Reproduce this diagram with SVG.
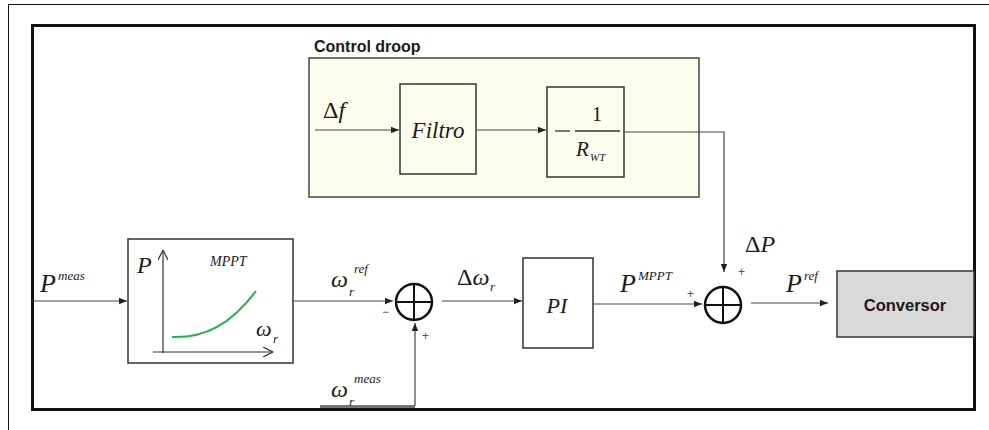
<svg xmlns="http://www.w3.org/2000/svg" width="989" height="430" viewBox="0 0 989 430">
<defs>
<marker id="ah" viewBox="0 0 10 10" refX="10" refY="5" markerWidth="8" markerHeight="8" markerUnits="userSpaceOnUse" orient="auto">
<path d="M0,1 L10,5 L0,9 z" fill="#222"/>
</marker>
<marker id="open" viewBox="0 0 10 10" refX="10" refY="5" markerWidth="10" markerHeight="10" markerUnits="userSpaceOnUse" orient="auto">
<path d="M0,0 L10,5 L0,10" fill="none" stroke="#333" stroke-width="1.2"/>
</marker>
</defs>
<style>
.m{font-family:"Liberation Serif",serif;font-style:italic;fill:#1a1a1a}
.u{font-family:"Liberation Serif",serif;fill:#1a1a1a}
.b{font-family:"Liberation Sans",Arial,sans-serif;font-weight:bold;fill:#1a1a1a}
.blk{fill:#fff;stroke:#333;stroke-width:1.5}
.w{fill:none;stroke:#444;stroke-width:1.2}
.sum{fill:#fff;stroke:#111;stroke-width:2.5}
.pm{font-family:"Liberation Sans",Arial,sans-serif;font-size:12px;fill:#555}
</style>
<rect width="989" height="430" fill="#fff"/>
<path d="M8.5,430 V4.5 H989" fill="none" stroke="#111" stroke-width="1"/>
<rect x="32.5" y="25.5" width="942" height="384" fill="none" stroke="#111" stroke-width="3"/>

<g id="droop">
<rect x="309" y="58" width="390" height="139" fill="#fefef0" stroke="#444" stroke-width="1.5"/>
<text class="b" x="314" y="52" font-size="16">Control droop</text>
</g>
<g id="filtro">
<rect class="blk" x="400" y="84" width="76" height="90" style="fill:#fefef0"/>
<text class="m" x="438" y="138" font-size="23" text-anchor="middle">Filtro</text>
</g>
<g id="gain">
<rect class="blk" x="547" y="87" width="77" height="90" style="fill:#fefef0"/>
<line x1="555" y1="131" x2="570" y2="131" stroke="#333" stroke-width="1.3"/>
<line x1="575" y1="131" x2="620" y2="131" stroke="#333" stroke-width="1.3"/>
<text class="u" x="597" y="121" font-size="20" text-anchor="middle">1</text>
<text class="m" x="576" y="156" font-size="21">R</text>
<text class="m" x="590" y="161" font-size="11">WT</text>
</g>
<g id="mppt">
<rect class="blk" x="128" y="239" width="165" height="124"/>
<text class="m" x="137" y="273" font-size="24">P</text>
<line x1="163" y1="353" x2="163" y2="250" stroke="#333" stroke-width="1.2" marker-end="url(#open)"/>
<line x1="153" y1="352" x2="273" y2="352" stroke="#333" stroke-width="1.2" marker-end="url(#open)"/>
<text class="m" x="210" y="266" font-size="14">MPPT</text>
<path d="M172,337 C205,338 230,325 256,291" fill="none" stroke="#22b04a" stroke-width="2"/>
<text class="m" x="256" y="336" font-size="22">ω</text>
<text class="m" x="273" y="343" font-size="13">r</text>
</g>
<g id="sum1">
<circle class="sum" cx="414" cy="302" r="18"/>
<line x1="396" y1="302" x2="432" y2="302" stroke="#111" stroke-width="2"/>
<line x1="414" y1="284" x2="414" y2="320" stroke="#111" stroke-width="2"/>
<text class="pm" x="382" y="316" font-size="16">−</text>
<text class="pm" x="422" y="340">+</text>
</g>
<g id="pi">
<rect class="blk" x="523" y="258" width="70" height="90"/>
<text class="m" x="557" y="313" font-size="22" text-anchor="middle">PI</text>
</g>
<g id="sum2">
<circle class="sum" cx="723" cy="305" r="18"/>
<line x1="705" y1="305" x2="741" y2="305" stroke="#111" stroke-width="2"/>
<line x1="723" y1="287" x2="723" y2="323" stroke="#111" stroke-width="2"/>
<text class="pm" x="687" y="298">+</text>
<text class="pm" x="738" y="276">+</text>
</g>
<g id="conversor">
<rect x="837" y="271" width="137" height="66" fill="#d9d9d9" stroke="#333" stroke-width="1.5"/>
<text class="b" x="905" y="311" font-size="16.5" text-anchor="middle">Conversor</text>
</g>

<g id="connectors">
<line class="w" x1="315" y1="130" x2="399" y2="130" marker-end="url(#ah)"/>
<line class="w" x1="476" y1="130" x2="546" y2="130" marker-end="url(#ah)"/>
<polyline class="w" points="624,132 724,132 724,272" marker-end="url(#ah)"/>
<line class="w" x1="34" y1="301" x2="127" y2="301" marker-end="url(#ah)"/>
<line class="w" x1="293" y1="301" x2="393" y2="301" marker-end="url(#ah)"/>
<line x1="320" y1="406.5" x2="415" y2="406.5" stroke="#777" stroke-width="3"/>
<line class="w" x1="415" y1="406" x2="415" y2="323" marker-end="url(#ah)"/>
<line class="w" x1="442" y1="301" x2="522" y2="301" marker-end="url(#ah)"/>
<line class="w" x1="593" y1="304" x2="702" y2="304" marker-end="url(#ah)"/>
<line class="w" x1="751" y1="303" x2="828" y2="303" marker-end="url(#ah)"/>
</g>

<g id="labels">
<text class="u" x="323" y="118" font-size="24">Δ<tspan class="m">f</tspan></text>
<text class="m" x="40" y="292" font-size="26">P</text>
<text class="m" x="58" y="280" font-size="13">meas</text>
<text class="m" x="331" y="287" font-size="24">ω</text>
<text class="m" x="349" y="296" font-size="13">r</text>
<text class="m" x="354" y="273" font-size="13">ref</text>
<text class="m" x="331" y="397" font-size="24">ω</text>
<text class="m" x="349" y="406" font-size="13">r</text>
<text class="m" x="354" y="383" font-size="13">meas</text>
<text class="u" x="457" y="285" font-size="24">Δ<tspan class="m">ω</tspan></text>
<text class="m" x="490" y="291" font-size="13">r</text>
<text class="m" x="620" y="292" font-size="26">P</text>
<text class="m" x="638" y="280" font-size="13">MPPT</text>
<text class="u" x="745" y="252" font-size="24">Δ<tspan class="m">P</tspan></text>
<text class="m" x="786" y="292" font-size="26">P</text>
<text class="m" x="804" y="280" font-size="13">ref</text>
</g>
</svg>
